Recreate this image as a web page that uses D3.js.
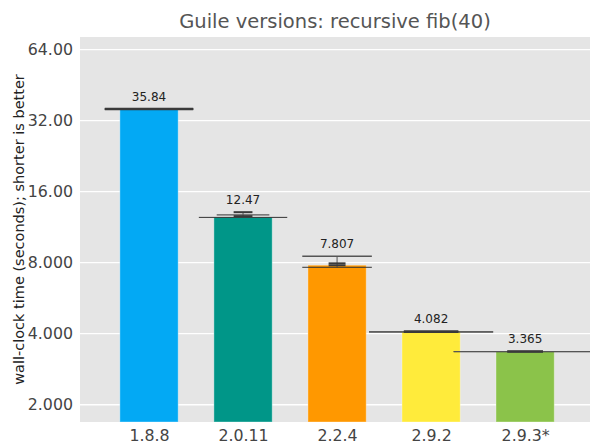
<!DOCTYPE html>
<html>
<head>
<meta charset="utf-8">
<script src="https://cdn.jsdelivr.net/npm/d3@7"></script>
<style>
  body { margin: 0; background: #fff; }
  text { font-family: "DejaVu Sans", sans-serif; }
</style>
</head>
<body>
<script>
// Data
const versions = ["1.8.8", "2.0.11", "2.2.4", "2.9.2", "2.9.3*"];
const times = [35.84, 12.47, 7.807, 4.082, 3.365];
// spread of the runs (narrow caps)
const errLow = [35.75, 12.6, 7.8, 4.07, 3.355];
const errHigh = [35.95, 13.1, 7.95, 4.1, 3.375];
// min / max lines (wide caps)
const rangeLow = [35.84, 12.45, 7.65, 4.07, 3.36];
const rangeHigh = [35.84, 12.75, 8.52, 4.07, 3.36];
const yTicks = [2, 4, 8, 16, 32, 64];

// cap half widths, in bar slots
const errCap = [0.47, 0.10, 0.09, 0.29, 0.19];
const lowCap = [0.47, 0.47, 0.37, 0.66, 0.76];
const highCap = [0.47, 0.28, 0.37, 0.66, 0.76];

const palette = ["#03A9F4", "#009688", "#FF9800", "#FFEB3B", "#8BC34A"];

// Constants
const width = 590;
const height = 445;
const margin = {top: 37, right: 0, bottom: 23, left: 80};
const plotW = width - margin.left - margin.right,
    plotH = height - margin.top - margin.bottom;
const barW = 0.62;

var svg = d3.select("body")
    .append("svg")
    .attr("width", width)
    .attr("height", height);

const x = d3.scaleLinear()
    .domain([-0.734, 4.69])
    .range([margin.left, margin.left + plotW]);

const y = d3.scaleLog()
    .base(2)
    .domain([1.69, 72.4])
    .range([margin.top + plotH, margin.top]);

// background
svg.append("rect")
    .attr("x", margin.left)
    .attr("y", margin.top)
    .attr("width", plotW)
    .attr("height", plotH)
    .attr("fill", "#E5E5E5");

// grid
svg.append("g")
    .selectAll("line")
    .data(yTicks)
    .enter()
    .append("line")
    .attr("x1", margin.left)
    .attr("x2", margin.left + plotW)
    .attr("y1", d => y(d))
    .attr("y2", d => y(d))
    .attr("stroke", "#fff")
    .attr("stroke-width", 1.3);

// y axis labels
const yAxis = d3.axisLeft(y)
    .tickValues(yTicks)
    .tickFormat(d3.format(".4g"))
    .tickSize(0)
    .tickPadding(7);

svg.append("g")
    .attr("transform", `translate(${margin.left},0)`)
    .call(yAxis)
    .call(g => g.select(".domain").remove())
    .selectAll("text")
    .attr("font-size", 15.8)
    .attr("fill", "#444");

// x axis labels
const xAxis = d3.axisBottom(x)
    .tickValues(d3.range(versions.length))
    .tickFormat(i => versions[i])
    .tickSize(0)
    .tickPadding(8);

svg.append("g")
    .attr("transform", `translate(0,${margin.top + plotH})`)
    .call(xAxis)
    .call(g => g.select(".domain").remove())
    .selectAll("text")
    .attr("font-size", 15.8)
    .attr("fill", "#444");

const idx = d3.range(versions.length);

// bars
svg.append("g")
    .selectAll("rect")
    .data(idx)
    .enter()
    .append("rect")
    .attr("x", i => x(i - barW / 2))
    .attr("width", x(barW) - x(0))
    .attr("y", i => y(times[i]))
    .attr("height", i => margin.top + plotH - y(times[i]))
    .attr("fill", i => palette[i])
    .attr("stroke", "#fff")
    .attr("stroke-opacity", 0.35)
    .attr("stroke-width", 1);

let errs = svg.append("g");

// whiskers
errs.selectAll(".whisker")
    .data(idx)
    .enter()
    .append("line")
    .attr("class", "whisker")
    .attr("x1", i => x(i))
    .attr("x2", i => x(i))
    .attr("y1", i => y(Math.min(errLow[i], rangeLow[i])))
    .attr("y2", i => y(Math.max(errHigh[i], rangeHigh[i])))
    .attr("stroke", "#555")
    .attr("stroke-width", 1);

function caps(vals, half, cls, color, w)
{
    errs.selectAll("." + cls)
        .data(idx)
        .enter()
        .append("line")
        .attr("class", cls)
        .attr("x1", i => x(i - half[i]))
        .attr("x2", i => x(i + half[i]))
        .attr("y1", i => y(vals[i]))
        .attr("y2", i => y(vals[i]))
        .attr("stroke", color)
        .attr("stroke-width", w);
}

caps(rangeLow, lowCap, "rlo", "#333", 1);
caps(rangeHigh, highCap, "rhi", "#555", 1.3);
caps(errLow, errCap, "elo", "#3a3a3a", 2);
caps(errHigh, errCap, "ehi", "#3a3a3a", 2);

// value labels
svg.append("g")
    .selectAll("text")
    .data(idx)
    .enter()
    .append("text")
    .attr("x", i => x(i))
    .attr("y", i => y(Math.max(errHigh[i], rangeHigh[i])) - 8)
    .attr("text-anchor", "middle")
    .attr("font-size", 12)
    .attr("fill", "#222")
    .text(i => d3.format(".4")(times[i]));

// title
svg.append("text")
    .attr("x", margin.left + plotW / 2)
    .attr("y", 28)
    .attr("text-anchor", "middle")
    .attr("font-size", 19.5)
    .attr("fill", "#555")
    .text("Guile versions: recursive fib(40)");

// y label
svg.append("text")
    .attr("transform", `translate(19,${margin.top + plotH / 2}) rotate(-90)`)
    .attr("text-anchor", "middle")
    .attr("dy", "0.35em")
    .attr("font-size", 14.5)
    .attr("fill", "#222")
    .text("wall-clock time (seconds); shorter is better");
</script>
</body>
</html>
